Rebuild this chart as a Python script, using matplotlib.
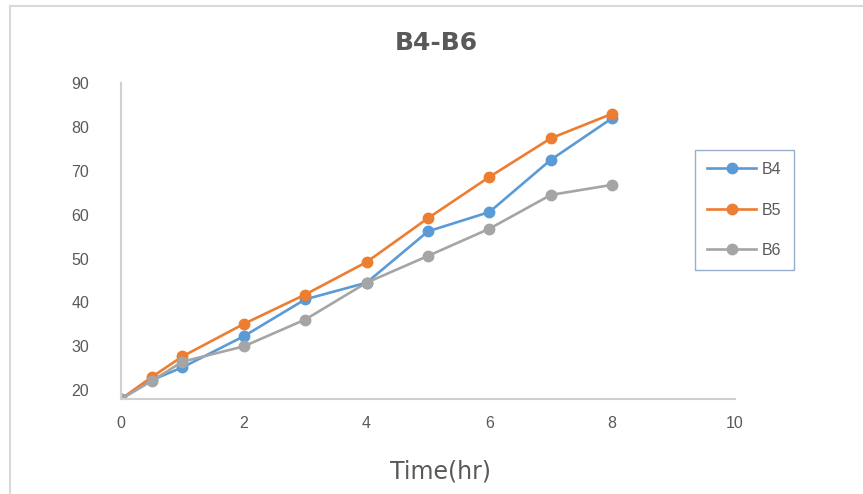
import numpy as np
import matplotlib
matplotlib.use("Agg")
import matplotlib.pyplot as plt
from matplotlib.lines import Line2D
from matplotlib import font_manager

# values
time_hr = [0, 0.5, 1, 2, 3, 4, 5, 6, 7, 8]
b4 = [18, 22.3, 25.2, 32.3, 40.7, 44.5, 56.2, 60.6, 72.5, 82.0]
b5 = [18, 23.0, 27.7, 35.1, 41.8, 49.2, 59.2, 68.6, 77.4, 83.0]
b6 = [18, 22.1, 26.5, 30.0, 36.1, 44.5, 50.6, 56.8, 64.5, 66.8]
series_names = ['B4', 'B5', 'B6']
colors = ['#5B9BD5', '#ED7D31', '#A5A5A5']
x_ticks = [0, 2, 4, 6, 8, 10]
y_ticks = [20, 30, 40, 50, 60, 70, 80, 90]

names = {f.name for f in font_manager.fontManager.ttflist}
if 'Liberation Sans Narrow' in names:
    tick_font = font_manager.FontProperties(family='Liberation Sans Narrow', size=12.5)
else:
    tick_font = font_manager.FontProperties(family='Liberation Sans', size=11.5)
txt_col = '#595959'

fig = plt.figure(figsize=(8.63, 4.94), dpi=100)
ax = fig.add_axes([121/863, 1 - 399/494, (735 - 121)/863, (399 - 83)/494])

for vals, name, c in zip([b4, b5, b6], series_names, colors):
    ax.plot(time_hr, vals, color=c, lw=1.9, marker='o', ms=7.5,
            markeredgecolor=c, label=name)

ax.set_xlim(0, 10)
ax.set_ylim(18, 90)
ax.set_xticks(x_ticks)
ax.set_yticks(y_ticks)
ax.tick_params(length=0, colors=txt_col)
ax.tick_params(axis='x', pad=12)
ax.tick_params(axis='y', pad=23)
for lab in ax.get_xticklabels() + ax.get_yticklabels():
    lab.set_fontproperties(tick_font)

for s in ['top', 'right']:
    ax.spines[s].set_visible(False)
for s in ['left', 'bottom']:
    ax.spines[s].set_color('#D0D0D0')
    ax.spines[s].set_linewidth(1.5)

fig.text(436/863, 1 - 43/494, 'B4-B6', ha='center', va='center',
         fontsize=18, fontweight='bold', color=txt_col, family='DejaVu Sans')
fig.text(440/863, 1 - 471/494, 'Time(hr)', ha='center', va='center',
         fontsize=17, color=txt_col, family='DejaVu Sans')

leg = ax.legend(loc='upper left', bbox_to_anchor=(695/863, 1 - 150/494),
                bbox_transform=fig.transFigure, frameon=True, fancybox=False,
                prop=tick_font, labelspacing=1.6,
                handlelength=3.1, handletextpad=0.35, borderpad=0.75,
                borderaxespad=0)
leg.get_frame().set_edgecolor('#7F9BC0')
leg.get_frame().set_linewidth(1.0)
for t in leg.get_texts():
    t.set_color(txt_col)

# outer chart frame (left and top edges)
fig.add_artist(Line2D([10/863, 10/863], [0, 1 - 6/494], transform=fig.transFigure,
                      color='#D9D9D9', lw=1.5))
fig.add_artist(Line2D([10/863, 1], [1 - 6/494, 1 - 6/494], transform=fig.transFigure,
                      color='#D9D9D9', lw=1.5))

fig.savefig('out.png', dpi=100)
